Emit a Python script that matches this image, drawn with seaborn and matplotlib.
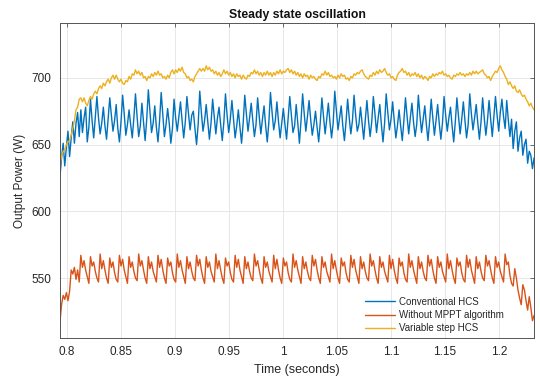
import numpy as np
import pandas as pd
import matplotlib
matplotlib.use("Agg")
import matplotlib.pyplot as plt
import seaborn as sns

T_START, T_END = 0.7935, 1.2325

series_names = ["Conventional HCS", "Without MPPT algorithm", "Variable step HCS"]
series_colors = ["#0072BD", "#D95319", "#EDB120"]

conventional_hcs = [
    626, 640, 651, 634, 648, 660, 641, 655, 667, 651, 666, 674, 656, 676, 659, 670, 678, 652, 663,
    684, 668, 655, 671, 686, 670, 658, 666, 678, 664, 654, 670, 685, 672, 660, 668,
    680, 662, 652, 667, 687, 673, 657, 665, 676, 665, 655, 670, 688, 671, 656, 664,
    681, 667, 653, 669, 691, 675, 659, 666, 679, 663, 652, 668, 689, 672, 656, 665,
    677, 666, 651, 662, 684, 670, 660, 671, 682, 668, 655, 667, 686, 673, 661, 672,
    675, 662, 650, 665, 690, 674, 660, 668, 680, 667, 654, 666, 684, 671, 658, 670,
    678, 665, 653, 667, 688, 672, 659, 669, 683, 669, 655, 664, 676, 663, 651, 666,
    687, 673, 660, 670, 681, 668, 656, 665, 685, 671, 658, 669, 679, 664, 652, 667,
    689, 674, 661, 668, 682, 667, 655, 666, 677, 665, 654, 670, 686, 672, 659, 664,
    680, 666, 651, 668, 688, 673, 660, 671, 683, 669, 657, 665, 675, 663, 652, 667,
    685, 671, 658, 669, 681, 667, 655, 666, 690, 675, 661, 670, 679, 664, 653, 667,
    684, 670, 658, 668, 687, 672, 660, 665, 678, 666, 654, 669, 683, 668, 656, 667,
    686, 673, 659, 670, 680, 665, 652, 666, 688, 674, 661, 669, 682, 668, 655, 664,
    676, 664, 653, 668, 685, 671, 658, 670, 681, 667, 656, 665, 687, 672, 659, 669,
    679, 665, 653, 667, 684, 670, 657, 668, 680, 666, 654, 666, 686, 672, 660, 670,
    678, 664, 652, 667, 685, 671, 658, 669, 682, 668, 655, 665, 688, 673, 661, 670,
    680, 666, 654, 667, 685, 670, 657, 668, 683, 669, 656, 671, 686, 672, 660, 674,
    684, 671, 662,
    683, 668, 656, 669, 647, 660, 667, 645, 655, 660, 642, 650, 654, 636, 645, 642, 632, 640,
]

without_mppt = [
    517, 530, 537, 534, 539, 533, 540, 556, 553, 558, 549, 556, 547,
    567, 558, 563, 556, 551, 546, 566, 559, 562, 555, 550, 547,
    568, 557, 563, 556, 550, 546, 565, 558, 562, 554, 549, 547,
    567, 559, 564, 556, 551, 546, 566, 558, 562, 555, 550, 548,
    568, 559, 563, 556, 550, 546, 566, 557, 562, 555, 551, 547,
    567, 558, 564, 556, 550, 546, 565, 559, 562, 554, 549, 547,
    568, 558, 563, 556, 551, 546, 566, 557, 562, 555, 550, 548,
    567, 559, 564, 556, 550, 546, 566, 558, 562, 555, 551, 547,
    568, 557, 563, 556, 550, 546, 565, 559, 562, 554, 549, 547,
    567, 558, 564, 556, 551, 546, 566, 557, 562, 555, 550, 548,
    568, 559, 563, 556, 550, 546, 566, 558, 562, 555, 551, 547,
    567, 557, 564, 556, 550, 546, 565, 559, 562, 554, 549, 547,
    568, 558, 563, 556, 551, 546, 566, 557, 562, 555, 550, 548,
    567, 559, 564, 556, 550, 546, 566, 558, 562, 555, 551, 547,
    568, 557, 563, 556, 550, 546, 565, 559, 562, 554, 549, 547,
    567, 558, 564, 556, 551, 546, 566, 557, 562, 555, 550, 548,
    568, 559, 563, 556, 550, 546, 566, 558, 562, 555, 551, 547,
    567, 557, 564, 556, 550, 546, 565, 559, 562, 554, 549, 547,
    568, 558, 563, 556, 551, 546, 566, 557, 562, 555, 550, 548,
    567, 559, 564, 556, 550, 546, 566, 558, 562, 555, 551, 547,
    568, 557, 563, 556, 550, 546, 565, 559, 562, 554, 549, 547,
    567, 558, 564, 556, 551, 546, 566, 557, 562, 555, 550, 548,
    567, 559, 563, 556, 550, 546, 566, 558, 562, 555, 551, 547,
    568,
    560, 562, 552, 546, 544, 557, 550, 541, 535, 530, 545, 541, 533, 526, 536, 528, 518, 522,
]

variable_step_hcs = [
    634, 641, 645, 646, 650, 652, 653, 657, 662, 668,
    676, 678, 684, 685, 682, 685, 681, 679, 683, 686,
    684, 688, 690, 688, 692, 694, 692, 696, 694, 697,
    699, 696, 700, 702, 699, 702, 699, 697, 699, 696,
    695, 698, 697, 701, 699, 703, 702, 706, 703, 705,
    702, 704, 700, 701, 698, 701, 700, 703, 701, 704,
    702, 705, 702, 703, 700, 701, 699, 702, 700, 704,
    706, 703, 706, 704, 707, 705, 708, 704, 703, 700,
    701, 698, 699, 697, 701, 703, 705, 707, 705, 707,
    705, 709, 706, 708, 705, 706, 703, 705, 702, 704,
    701,
    703, 706, 703, 705, 702, 704, 701, 703, 700, 703, 701, 702, 699, 702, 700,
    699,
    702, 701, 704, 703, 706, 703, 705, 702, 704,
    701, 704, 702, 705, 702, 704, 701, 704, 702, 705, 703, 706, 703, 705, 704, 706,
    707,
    704, 706, 703, 705, 702, 704, 701, 703, 700, 703, 701, 702, 699, 702, 700, 701, 699,
    698,
    701, 700, 703, 702, 705, 702, 704, 701, 702, 700, 701,
    699,
    702, 700, 703, 701, 702, 699, 700,
    698,
    701, 700, 703, 702, 704, 703, 705, 706, 703, 701, 700,
    699,
    702, 701, 704, 702, 705, 703, 706, 704, 705,
    707,
    704, 702, 703, 700, 701, 699,
    698,
    702, 704, 705,
    707,
    704, 705, 702, 704, 701, 703, 702, 704, 701, 703, 700, 702, 699, 701, 700,
    698,
    701, 700, 703, 701, 703, 702, 704, 703,
    705,
    702, 703, 701, 702, 700,
    699,
    702, 701, 703, 702, 704, 702, 703, 701, 703, 702, 704, 702,
    705,
    703, 705, 703, 704, 705,
    706,
    703, 702, 700, 701,
    698,
    701, 703, 705, 704, 707,
    709,
    706, 704, 701, 699, 695, 697, 694, 692, 694, 690, 689, 691, 688, 686, 687, 684, 682, 679, 681, 678, 676,
]

x_ticks = [0.8, 0.85, 0.9, 0.95, 1.0, 1.05, 1.1, 1.15, 1.2]
x_tick_labels = ["0.8", "0.85", "0.9", "0.95", "1", "1.05", "1.1", "1.15", "1.2"]
y_ticks = [550, 600, 650, 700]
y_tick_labels = ["550", "600", "650", "700"]

# long-form table for seaborn
frames = []
for name, vals in zip(series_names, [conventional_hcs, without_mppt, variable_step_hcs]):
    t = np.linspace(T_START, T_END, len(vals))
    frames.append(pd.DataFrame({"time": t, "power": vals, "series": name}))
df = pd.concat(frames, ignore_index=True)

sns.set_theme(style="white")
plt.rcParams['font.family'] = ['Liberation Sans', 'DejaVu Sans']

fig = plt.figure(figsize=(5.4, 3.79), dpi=100)
ax = fig.add_axes([0.111, 0.108, 0.878, 0.831])

sns.lineplot(data=df, x="time", y="power", hue="series", hue_order=series_names,
             palette=series_colors, estimator=None, sort=False, linewidth=1.0, ax=ax)

ax.set_xlim(T_START, T_END)
ax.set_ylim(505, 741)
ax.set_xticks(x_ticks)
ax.set_xticklabels(x_tick_labels)
ax.set_yticks(y_ticks)
ax.set_yticklabels(y_tick_labels)

ax.grid(True, color="#e3e3e3", linewidth=0.6)
ax.set_axisbelow(True)
for sp in ax.spines.values():
    sp.set_color("#555555")
    sp.set_linewidth(0.7)
ax.tick_params(axis="both", direction="in", length=3, width=0.6, color="#555555",
               labelsize=8.5, labelcolor="#262626", top=True, right=True, pad=6)

ax.set_title("Steady state oscillation", fontsize=8.8, fontweight="bold", pad=4, color="#111111")
ax.set_xlabel("Time (seconds)", fontsize=9, color="#262626", labelpad=4)
ax.set_ylabel("Output Power (W)", fontsize=8.5, color="#262626", labelpad=4)

handles, labels = ax.get_legend_handles_labels()
ax.legend(handles, labels, loc="lower left", bbox_to_anchor=(0.643, 0.015), frameon=False,
          fontsize=7, handlelength=3.1, handletextpad=0.4, labelspacing=0.35,
          borderpad=0, borderaxespad=0)

fig.savefig("out.png", dpi=100)
